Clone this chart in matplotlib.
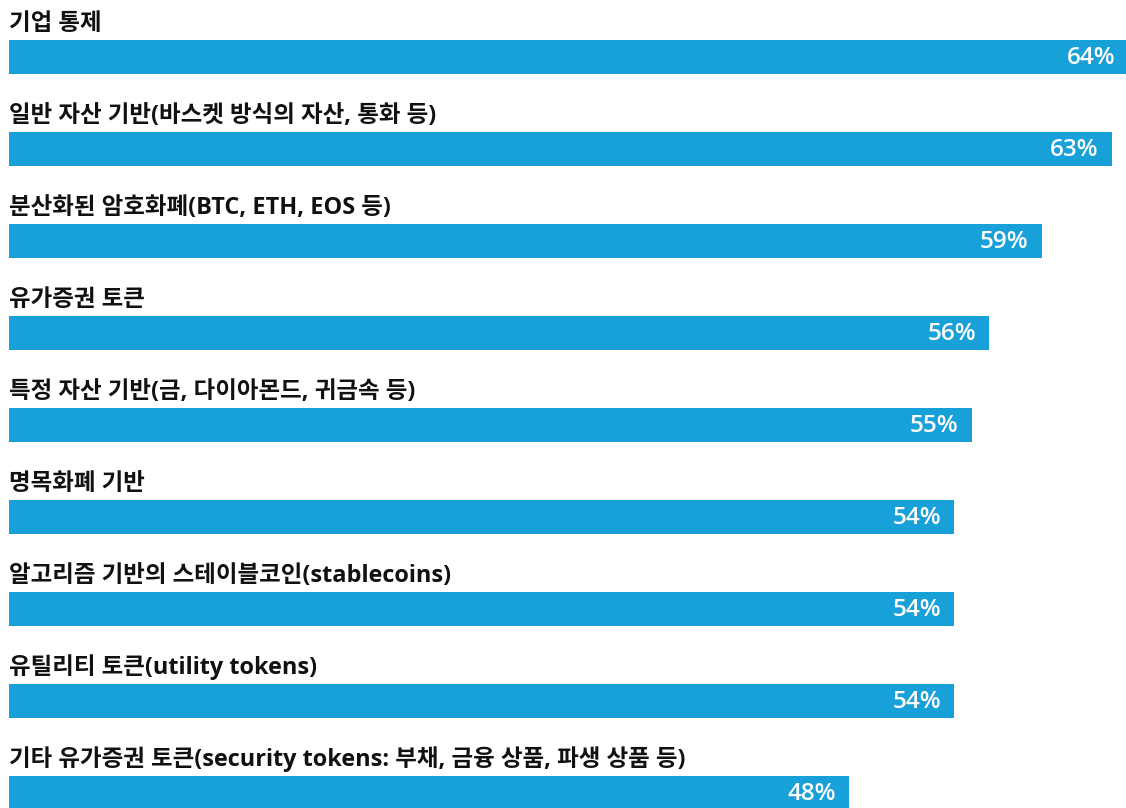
import matplotlib
matplotlib.use("Agg")
import matplotlib.pyplot as plt

plt.rcParams['font.family'] = ['Open Sans', 'Noto Sans CJK KR', 'DejaVu Sans']

categories = [
    "기업 통제",
    "일반 자산 기반(바스켓 방식의 자산, 통화 등)",
    "분산화된 암호화폐(BTC, ETH, EOS 등)",
    "유가증권 토큰",
    "특정 자산 기반(금, 다이아몬드, 귀금속 등)",
    "명목화폐 기반",
    "알고리즘 기반의 스테이블코인(stablecoins)",
    "유틸리티 토큰(utility tokens)",
    "기타 유가증권 토큰(security tokens: 부채, 금융 상품, 파생 상품 등)",
]
values = [64, 63, 59, 56, 55, 54, 54, 54, 48]

BAR_COLOR = "#18a0d9"
W, H = 1126, 808

fig = plt.figure(figsize=(W / 100, H / 100), dpi=100)
ax = fig.add_axes([9 / W, 0, (W - 9) / W, 1])

rows = list(range(len(categories)))
bar_h = 34 / 92
ax.barh(rows, values, height=bar_h, color=BAR_COLOR, edgecolor="none")

for i, (cat, v) in enumerate(zip(categories, values)):
    ax.text(0, i - 0.29, cat, ha="left", va="baseline", fontsize=16.9,
            fontweight="bold", color="#111111")
    ax.text(v - 0.75, i + 0.01, f"{v}%", ha="right", va="center", fontsize=17.5,
            fontweight="semibold", color="white",
            family=["Open Sans", "DejaVu Sans"])

ax.set_xlim(0, (W - 9) / 17.5)
ax.set_ylim((H - 57) / 92, -57 / 92)
ax.axis("off")

fig.savefig("out.png", dpi=100)
